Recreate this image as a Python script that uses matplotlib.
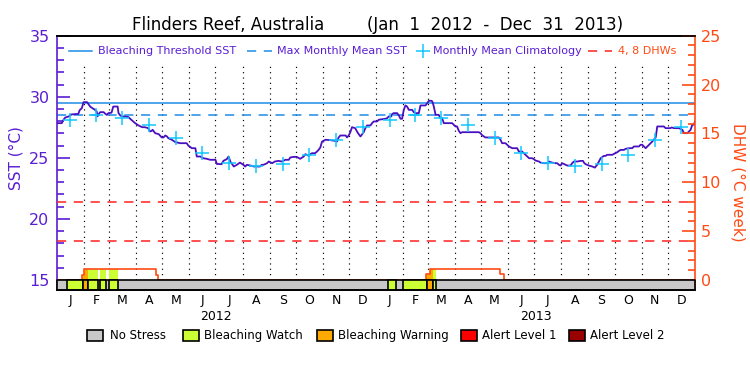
import numpy as np
import matplotlib
matplotlib.use('Agg')
import matplotlib.pyplot as plt
from matplotlib.patches import Rectangle
from matplotlib.lines import Line2D
import matplotlib.transforms as mtransforms

# ---------------- data ----------------
month_letters = ['J', 'F', 'M', 'A', 'M', 'J', 'J', 'A', 'S', 'O', 'N', 'D']
month_lengths_2012 = [31, 29, 31, 30, 31, 30, 31, 31, 30, 31, 30, 31]
month_lengths_2013 = [31, 28, 31, 30, 31, 30, 31, 31, 30, 31, 30, 31]
year_labels = ['2012', '2013']

threshold_sst = 29.5
mmm_sst = 28.5
dhw_levels = [4, 8]
clim_monthly = [28.1, 28.5, 28.3, 27.65, 26.6, 25.4, 24.55, 24.35, 24.5, 25.2, 26.5, 27.5]

sst_days = [0, 6, 8, 10, 14, 17, 21, 25, 26.5, 29, 31, 35, 36.5, 38.5, 40, 44, 46, 47, 48.5, 50,
            54, 56, 57.5, 59.5, 63, 65, 70, 71, 73, 75, 82, 86, 90, 94, 98, 101, 105, 107, 109,
            110, 113, 117, 120.5, 122.5, 124.5, 126.5, 128, 132, 136, 141.5,
            149, 151, 155, 159, 160.6, 164.5, 168, 172, 176, 182, 183.6, 189, 191, 195, 197,
            199, 203, 204.6, 206.5, 210, 214, 216, 218, 222, 226, 233, 235, 237, 241, 243,
            247, 250, 254, 258, 262, 266, 267.6, 271.5, 275, 279, 283, 285,
            289, 290.6, 292.5, 296, 298, 300, 302, 304, 308, 313.5, 319, 321, 323, 325, 331,
            332.6, 334.5, 336.4, 338.3, 342, 344, 346, 348, 350, 351.7, 353.6, 355.5, 359.4,
            361.3, 363.2, 367, 369, 376.6, 378.5, 380.4, 383.3, 384.2, 386, 390, 392, 393.8,
            395.7, 397.6, 399.5, 401.4, 403.4, 407.2, 409, 411, 414.8, 416.7, 422.5, 424.4,
            426.3, 429.4, 430.3, 432, 434,
            437.6, 439.6, 441.5, 443.4, 453, 455, 456.7, 458.6, 460.6, 462.5, 464.4, 483.5,
            485.4, 487.3, 491, 506.4, 508.3, 510.2, 514, 516, 518, 521.7, 527.4, 529.3, 533,
            535, 537, 539, 541, 544.6, 546.5, 548.4, 552.3, 554.2, 558, 561.8, 563.7, 567.5,
            571.3, 573.3, 575.2,
            577, 579, 582.8, 584.7, 588.5, 590.4, 592.3, 596.2, 600, 602.8, 603.8, 605.7,
            609.5, 613.4, 616.4, 619, 621, 623, 626.7, 628.6, 630.5, 636.3, 640, 642, 644,
            645.8, 649.7, 651.6, 655.4, 659.2, 661, 666.8, 668.7, 670.6, 672.6, 674.5, 678.3,
            682, 686, 687.8, 695.4, 697.3, 703, 704, 707, 712.6, 716.5, 718.4, 722.2, 724.1,
            726, 727.9, 729.8, 731]
sst_vals = [27.84, 27.84, 28.12, 28.30, 28.39, 28.55, 28.58, 28.60, 28.90, 29.07, 29.56, 29.56,
            29.40, 29.20, 29.12, 28.93, 28.80, 28.40, 28.60, 28.74,
            28.74, 28.60, 28.52, 28.66, 28.70, 29.20, 29.20, 28.66, 28.47, 28.40, 28.35, 28.10,
            27.84, 27.65, 27.51, 27.51, 27.43, 27.16, 27.21,
            27.30, 27.02, 26.94, 26.67, 26.67, 26.83, 26.75, 26.61, 26.48, 26.29, 26.20,
            26.20, 26.00, 25.79, 25.79, 25.11, 25.11, 24.97, 24.92, 24.84, 24.84, 24.50, 24.48,
            24.75, 24.90, 25.11,
            24.70, 24.29, 24.35, 24.43, 24.61, 24.43, 24.29, 24.43, 24.37, 24.29, 24.29, 24.43,
            24.43, 24.56, 24.70,
            24.56, 24.70, 24.75, 24.70, 24.84, 24.84, 25.03, 25.08, 25.08, 24.92, 25.11, 25.30,
            25.16, 25.30, 25.38, 25.38, 25.50, 25.65, 25.84, 26.33, 26.48, 26.45, 26.39, 26.33,
            26.67, 26.83, 26.83,
            26.67, 26.83, 27.10, 27.51, 27.43, 27.16, 26.94, 26.75, 26.94, 27.10, 27.43, 27.65,
            27.65,
            27.84, 27.98, 27.98, 28.12, 28.20, 28.25, 28.39, 28.39, 28.58, 28.66, 28.66, 28.47,
            28.20,
            28.20, 28.93, 29.29, 29.20, 28.93, 28.93, 28.74, 28.66, 28.66, 29.29, 29.29, 29.48,
            29.67, 29.67, 29.61, 29.20, 28.52,
            28.52, 28.25, 28.25, 27.84, 27.84, 27.70, 27.57, 27.57, 27.21, 27.02, 27.10, 27.10,
            27.02, 26.85, 26.67, 26.67, 26.48, 26.20, 26.20, 26.07, 25.93, 25.79, 25.79, 25.52,
            25.52,
            25.38, 25.25, 25.11, 24.97, 24.97, 24.89, 24.78, 24.70, 24.61, 24.56, 24.56, 24.70,
            24.61,
            24.56, 24.56, 24.43,
            24.37, 24.56, 24.43, 24.37, 24.37, 24.56, 24.70, 24.70, 24.75, 24.75, 24.61, 24.48,
            24.37, 24.29, 24.20, 24.43, 24.70, 24.97, 25.16, 25.16, 25.25, 25.25, 25.38, 25.46,
            25.57,
            25.65, 25.65, 25.74, 25.79, 25.79, 25.93, 25.93, 26.07, 26.07, 25.93, 25.79, 26.07,
            26.33, 26.67, 27.57, 27.57, 27.43, 27.43, 27.49, 27.43, 27.43, 27.30, 27.02, 27.02,
            27.16,
            27.30, 27.71, 27.71, 27.98]

dhw_days = [0, 29.6, 31.9, 113.7, 116.7, 423.5, 428.0, 508.3, 512.1, 731]
dhw_vals = [0, 0.52, 1.10, 0.52, 0.0, 0.59, 1.17, 0.59, 0.0, 0.0]

# stress level segments: start day, end day, level index (0 = no stress)
stress_starts = [11.7, 30.0, 36.4, 49.9, 60.2, 379.6, 396.8, 424.3, 430.7]
stress_ends   = [30.0, 36.4, 47.2, 56.7, 70.8, 389.1, 424.3, 430.7, 435.0]
stress_levels = [1, 2, 1, 1, 1, 1, 1, 2, 1]

stress_names = ['No Stress', 'Bleaching Watch', 'Bleaching Warning', 'Alert Level 1', 'Alert Level 2']
stress_colors = ['#c8c8c8', '#ccff33', '#ffaa00', '#ff0000', '#990000']

# ---------------- styling ----------------
PURPLE = '#5a1ed2'
SSTCOL = '#4a10c0'
BLUE = '#1e8ce6'
CYAN = '#10c8ff'
RED = '#ff2020'
ORANGE = '#ff4a14'

W, H = 750, 375
fig = plt.figure(figsize=(7.5, 3.75), dpi=100)
fx = lambda px: px / W
fy = lambda py: 1 - py / H

ax = fig.add_axes([fx(56.5), fy(290), (695 - 56.5) / W, (290 - 35.7) / H])
ax2 = ax.twinx()

total_days = sum(month_lengths_2012) + sum(month_lengths_2013)
all_lengths = month_lengths_2012 + month_lengths_2013
month_starts = np.concatenate([[0], np.cumsum(all_lengths)[:-1]])
month_mids = month_starts + np.array(all_lengths) / 2.0

ymin_sst = 14.18
ax.set_xlim(0, total_days)
ax.set_ylim(ymin_sst, 35)
ax2.set_ylim((ymin_sst - 15) * 1.25, 25)

# reference lines
ax.axhline(threshold_sst, color=BLUE, lw=1.1, zorder=2)
ax.axhline(mmm_sst, color=BLUE, lw=1.1, ls=(0, (6, 5)), zorder=2)
for lv in dhw_levels:
    ax2.axhline(lv, color=RED, lw=1.1, ls=(0, (6, 5)), zorder=2)

# month boundary dotted lines
ax.vlines(month_starts[1:], 15, 32.57, colors='black', linestyles=(0, (1, 3.5)), lw=0.85, zorder=1)

# SST and climatology
ax.plot(sst_days, sst_vals, color=SSTCOL, lw=1.3, zorder=4)
ax.plot(month_mids, clim_monthly * 2, ls='none', marker='+', ms=10, mew=1.1, color=CYAN, zorder=5)

# DHW fill by stress level and DHW line
def dhw_at(x):
    idx = np.searchsorted(dhw_days, x, side='right') - 1
    return dhw_vals[max(idx, 0)]

for s, e, lvl in zip(stress_starts, stress_ends, stress_levels):
    xs = [s] + [d for d in dhw_days if s < d < e] + [e]
    ys = [dhw_at(x) for x in xs]
    ax2.fill_between(xs, 0, ys, step='post', color=stress_colors[lvl], lw=0, zorder=2)

ax2.plot(dhw_days, dhw_vals, drawstyle='steps-post', color=ORANGE, lw=1.2, zorder=3)

# stress bar
bar_bottom = (ymin_sst - 15) * 1.25
ax2.broken_barh([(0, total_days)], (bar_bottom, -bar_bottom), facecolors=stress_colors[0],
                edgecolors='black', lw=1.2, zorder=6, clip_on=False)
for s, e, lvl in zip(stress_starts, stress_ends, stress_levels):
    ax2.broken_barh([(s, e - s)], (bar_bottom, -bar_bottom), facecolors=stress_colors[lvl],
                    edgecolors='black', lw=1.2, zorder=7, clip_on=False)

# axes styling
ax.set_xticks(month_mids)
ax.set_xticklabels(month_letters * 2)
ax.tick_params(axis='x', length=0, pad=3, labelsize=9, colors='black')
ax.set_yticks([15, 20, 25, 30, 35])
ax.set_yticks(np.arange(15, 36, 1), minor=True)
ax.tick_params(axis='y', which='major', direction='in', length=9.5, width=1.2, colors=PURPLE,
               labelsize=11.5, pad=5, left=True, right=False)
ax.tick_params(axis='y', which='minor', direction='in', length=5, width=1.2, colors=PURPLE,
               left=True, right=False)
ax2.set_yticks([0, 5, 10, 15, 20, 25])
ax2.set_yticks(np.arange(0, 26, 1), minor=True)
ax2.tick_params(axis='y', which='major', direction='in', length=9.5, width=1.2, colors=ORANGE,
                labelsize=11.5, pad=4)
ax2.tick_params(axis='y', which='minor', direction='in', length=5, width=1.2, colors=ORANGE)

for a in (ax, ax2):
    a.spines['top'].set_color('black')
    a.spines['bottom'].set_color('black')
    for sp in a.spines.values():
        sp.set_linewidth(1.2)
ax.spines['left'].set_color(PURPLE)
ax.spines['right'].set_visible(False)
ax2.spines['left'].set_visible(False)
ax2.spines['right'].set_color(ORANGE)
ax2.spines['bottom'].set_zorder(8)

# year labels
trans = mtransforms.blended_transform_factory(ax.transData, fig.transFigure)
for i, yl in enumerate(year_labels):
    mid = sum(all_lengths[:12]) * i + sum(all_lengths[12 * i:12 * i + 12]) / 2.0
    ax.text(mid, fy(316), yl, transform=trans, ha='center', va='center', fontsize=9)

# title
fig.text(fx(132), fy(29.5), 'Flinders Reef, Australia', fontsize=12, va='baseline', ha='left')
fig.text(fx(367), fy(29.5), '(Jan  1  2012  -  Dec  31  2013)', fontsize=12, va='baseline', ha='left')

# axis labels
fig.text(fx(16), fy(158), 'SST (°C)', rotation=90, color=PURPLE, fontsize=11, ha='center', va='center')
fig.text(fx(738), fy(182), 'DHW (°C week)', rotation=270, color=ORANGE, fontsize=11, ha='center', va='center')

# top legend
ly = 51
fig.add_artist(Line2D([fx(69), fx(92)], [fy(ly), fy(ly)], color=BLUE, lw=1.1))
fig.text(fx(98.5), fy(ly), 'Bleaching Threshold SST', color=PURPLE, fontsize=8, va='center')
fig.add_artist(Line2D([fx(247), fx(272)], [fy(ly), fy(ly)], color=BLUE, lw=1.1, ls=(0, (6, 5))))
fig.text(fx(277), fy(ly), 'Max Monthly Mean SST', color=PURPLE, fontsize=8, va='center')
fig.add_artist(Line2D([fx(423)], [fy(ly)], marker='+', ms=10, mew=1.1, color=CYAN, ls='none'))
fig.text(fx(433), fy(ly), 'Monthly Mean Climatology', color=PURPLE, fontsize=8, va='center')
fig.add_artist(Line2D([fx(588), fx(612)], [fy(ly), fy(ly)], color=RED, lw=1.1, ls=(0, (6, 5))))
fig.text(fx(618), fy(ly), '4, 8 DHWs', color=ORANGE, fontsize=8, va='center')

# bottom legend
patch_x = [87.3, 183, 316.7, 461, 569.3]
text_x = [110, 204.5, 338, 482.5, 590]
for px, tx, name, col in zip(patch_x, text_x, stress_names, stress_colors):
    fig.add_artist(Rectangle((fx(px), fy(341)), 16 / W, 11.5 / H, transform=fig.transFigure,
                             facecolor=col, edgecolor='black', lw=1.2))
    fig.text(fx(tx), fy(335.5), name, fontsize=8.5, va='center', ha='left')

fig.savefig('out.png', dpi=100)
